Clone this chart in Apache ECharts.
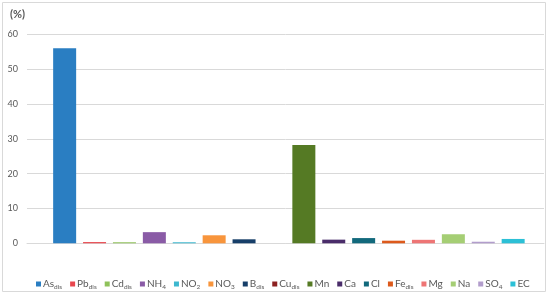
<!DOCTYPE html>
<html>
<head>
<meta charset="utf-8">
<script src="https://cdn.jsdelivr.net/npm/echarts@6/dist/echarts.min.js"></script>
<style>html,body{margin:0;padding:0;background:#fff;}#c{width:550px;height:297px;}</style>
</head>
<body>
<div id="c"></div>
<script>
const bases = ['As','Pb','Cd','NH','NO','NO','B','Cu','Mn','Ca','Cl','Fe','Mg','Na','SO','EC'];
const subs  = ['dis','dis','dis','4','2','3','dis','dis','','','','dis','','','4',''];
const values = [56.0, 0.35, 0.3, 3.2, 0.3, 2.3, 1.15, 0.0, 28.2, 1.05, 1.5, 0.75, 1.0, 2.6, 0.45, 1.25];
const colors = ['#2A7EC2','#E8474E','#8FC25A','#8A5BA6','#3DB8CF','#F8953C','#173F69','#8C2121','#557A24','#4A2D6A','#12697C','#DD5A1C','#EE7575','#A5CE74','#B29DCC','#2CC0D6'];
const yTicks = [0, 60, 10];

const font = 'Lato';
const chart = echarts.init(document.getElementById('c'), null, {renderer: 'canvas'});
const names = bases.map((b, i) => b + '_' + subs[i]);
const series = names.map((n, i) => ({
  name: n,
  type: 'bar',
  xAxisIndex: 1,
  yAxisIndex: 1,
  data: [values[i]],
  barWidth: 23,
  barGap: '30%',
  itemStyle: {color: colors[i]},
  animation: false
}));
chart.setOption({
  animation: false,
  color: colors,
  textStyle: {fontFamily: font},
  grid: [
    {left: 27, right: 6, top: 34.3, bottom: 53.7},
    {left: 33.8, right: 6, top: 34.3, bottom: 53.7}
  ],
  xAxis: [
    {gridIndex: 0, type: 'category', data: [''], axisLine: {show: true, lineStyle: {color: '#D9D9D9'}}, axisTick: {show: false}, axisLabel: {show: false}},
    {gridIndex: 1, type: 'category', data: [''], show: false}
  ],
  yAxis: [
    {gridIndex: 0, type: 'value', min: yTicks[0], max: yTicks[1], interval: yTicks[2],
     axisLine: {show: false}, axisTick: {show: false},
     splitLine: {lineStyle: {color: '#D9D9D9'}},
     axisLabel: {color: '#595959', fontSize: 9, margin: 9, fontFamily: font}},
    {gridIndex: 1, type: 'value', min: yTicks[0], max: yTicks[1], show: false}
  ],
  legend: {
    data: names,
    left: 36,
    width: 514,
    top: 279,
    padding: 0,
    itemWidth: 5,
    itemHeight: 5,
    itemGap: 8,
    icon: 'rect',
    textStyle: {
      fontFamily: font, fontSize: 10, color: '#595959', padding: [0,0,0,-3],
      rich: {
        n: {fontFamily: font, fontSize: 10, color: '#595959'},
        s: {fontFamily: font, fontSize: 6.5, color: '#595959', padding: [5,0,0,0]}
      }
    },
    formatter: function (name) {
      const p = name.split('_');
      return '{n|' + p[0] + '}' + (p[1] ? '{s|' + p[1] + '}' : '');
    }
  },
  graphic: [
    {type: 'rect', shape: {x: 2.5, y: 2.5, width: 543, height: 289}, style: {fill: 'none', stroke: '#D9D9D9', lineWidth: 1}, silent: true},
    {type: 'text', left: 10, top: 9, style: {text: '(%)', fontFamily: font, fontSize: 11, fontWeight: 'bold', fill: '#595959'}}
  ],
  series: series
});
</script>
</body>
</html>
